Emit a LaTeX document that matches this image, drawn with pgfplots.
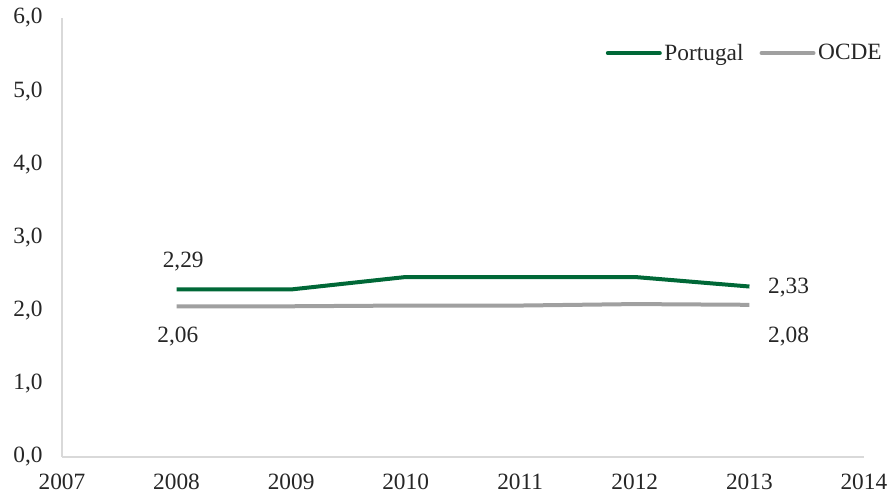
\documentclass[border=0pt]{standalone}
\usepackage{pgfplots}
\pgfplotsset{compat=1.18}
\usepackage{fontspec}
\setmainfont{Liberation Serif}
\definecolor{ptgreen}{RGB}{0,104,55}
\definecolor{ocdegray}{RGB}{160,160,160}
\definecolor{axgray}{RGB}{217,217,217}
\definecolor{txt}{RGB}{38,38,38}
\newcommand{\lblfont}{\fontsize{17.5pt}{20pt}\selectfont}
\begin{document}
\begin{tikzpicture}
\useasboundingbox (-46.5pt,-28.5pt) rectangle (621pt,342.75pt);
\begin{axis}[
  at={(0,0)}, anchor=south west,
  scale only axis,
  width=601.5pt, height=329.25pt,
  xmin=2007, xmax=2014, ymin=0, ymax=6,
  xtick={2007,...,2014}, ytick={0,1,...,6},
  axis x line*=bottom, axis y line*=left,
  x axis line style={axgray, line width=1pt, -},
  y axis line style={axgray, line width=1pt, -},
  major tick length=0pt,
  tick label style={font=\lblfont, text=txt},
  /pgf/number format/assume math mode=true,
  xticklabel={\pgfmathprintnumber[1000 sep={},fixed]{\tick}},
  yticklabel={\pgfmathprintnumber[fixed,fixed zerofill,precision=1,use comma]{\tick}},
  xticklabel style={yshift=-9pt},
  yticklabel style={xshift=-11pt},
  legend style={draw=none, fill=none, at={(1,0.92)}, anchor=east, xshift=18.5pt,
    legend columns=2, font=\lblfont, text=txt,
    /tikz/every even column/.append style={column sep=10pt}},
  legend cell align=left,
  legend image code/.code={\draw[#1, line cap=round] (0pt,0pt) -- (39pt,0pt);},
  clip=false,
]
\addplot[ptgreen, line width=3pt, line join=round] coordinates {
 (2008,2.29) (2009,2.29) (2010,2.46) (2011,2.46) (2012,2.46) (2013,2.33)};
\addlegendentry{Portugal}
\addplot[ocdegray, line width=3pt, line join=round] coordinates {
 (2008,2.06) (2009,2.06) (2010,2.07) (2011,2.07) (2012,2.09) (2013,2.08)};
\addlegendentry{OCDE}
\node[font=\lblfont, text=txt] at (axis cs:2008,2.29) [xshift=5pt, yshift=21pt] {2,29};
\node[font=\lblfont, text=txt] at (axis cs:2008,2.06) [xshift=1pt, yshift=-23pt] {2,06};
\node[font=\lblfont, text=txt, anchor=west] at (axis cs:2013,2.33) [xshift=10.5pt, yshift=-1pt] {2,33};
\node[font=\lblfont, text=txt, anchor=west] at (axis cs:2013,2.08) [xshift=10.5pt, yshift=-24pt] {2,08};
\end{axis}
\end{tikzpicture}
\end{document}
